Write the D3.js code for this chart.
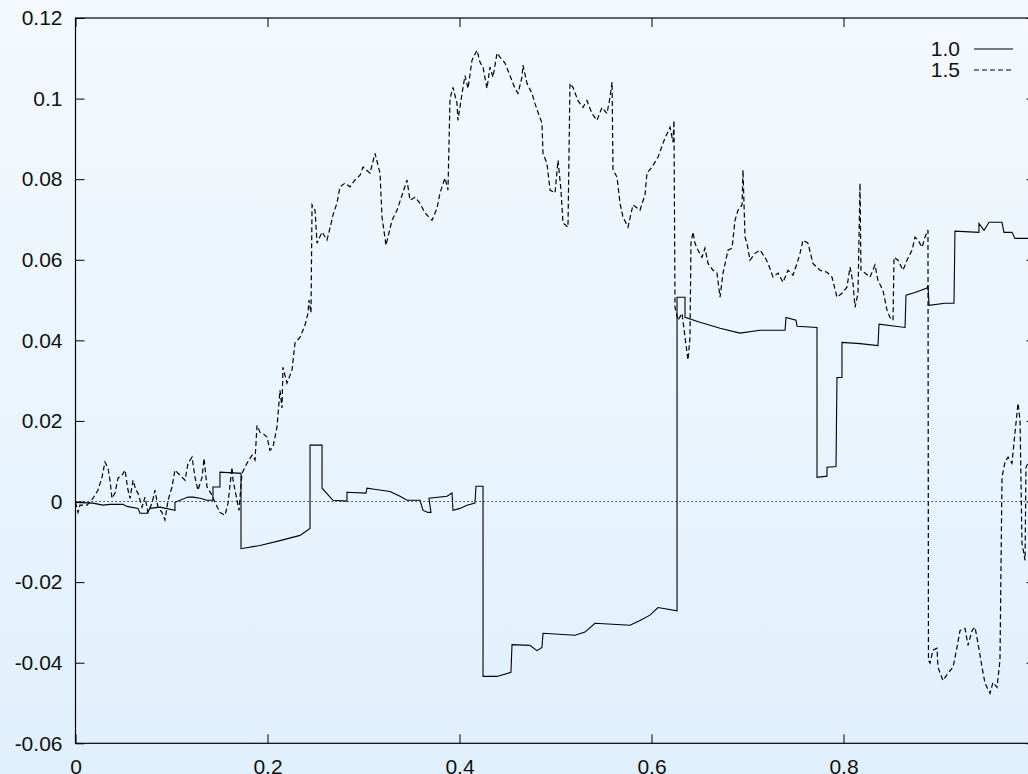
<!DOCTYPE html>
<html>
<head>
<meta charset="utf-8">
<script src="https://cdn.jsdelivr.net/npm/d3@7"></script>
<style>
  html, body { margin: 0; padding: 0; overflow: hidden; }
  svg { display: block; font-family: "Liberation Sans", Arial, sans-serif; }
</style>
</head>
<body>
<div id="chart"></div>
<script>
// series "1.0" (solid, step-like)
const solidX = [0, 0.0182, 0.0286, 0.0359, 0.0495, 0.0536, 0.0651, 0.0672, 0.0745, 0.0776, 0.088, 0.1036, 0.1036,
  0.1172, 0.1224, 0.1297, 0.137, 0.1432, 0.1432, 0.1505, 0.1505, 0.1724, 0.1724, 0.1922, 0.213, 0.2339, 0.2443, 0.2443,
  0.2568, 0.2568, 0.2682, 0.2828, 0.2828, 0.3026, 0.3036, 0.313, 0.3276, 0.338, 0.3453, 0.3589, 0.362, 0.3672, 0.3703,
  0.3682, 0.387, 0.3922, 0.3932, 0.4005, 0.4078, 0.4161, 0.4172, 0.4245, 0.4245, 0.4391, 0.4536, 0.4547, 0.4734, 0.4807,
  0.4859, 0.487, 0.5203, 0.5307, 0.5411, 0.5776, 0.588, 0.5984, 0.6068, 0.6266, 0.6266, 0.6349, 0.6349, 0.6505, 0.6714,
  0.6922, 0.713, 0.7391, 0.7401, 0.7505, 0.7516, 0.7724, 0.7724, 0.7828, 0.7828, 0.7922, 0.7932, 0.7984, 0.7984, 0.8172,
  0.8359, 0.837, 0.8641, 0.8651, 0.8745, 0.887, 0.888, 0.8891, 0.9057, 0.9151, 0.9161, 0.9411, 0.9411, 0.9464, 0.9516,
  0.9651, 0.9672, 0.9755, 0.9786, 0.9922, 0.9995];
const solidY = [-0.0002, -0.0004, -0.0009, -0.0007, -0.0007, -0.0012, -0.0017, -0.0029, -0.0029, -0.0017, -0.0014, -0.0022, -0.0002,
  0.0011, 0.0011, 0.0008, 0.0003, 0.0003, 0.0036, 0.0036, 0.0073, 0.007, -0.0117, -0.0109, -0.0097, -0.0084, -0.0067, 0.014,
  0.014, 0.0033, 0.0003, 0.0001, 0.0023, 0.0021, 0.0033, 0.003, 0.0025, 0.0013, 0.0003, 0.0003, -0.0022, -0.0027, -0.0027,
  0.0008, 0.0013, 0.0021, -0.0022, -0.0017, -0.0009, -0.0004, 0.0038, 0.0038, -0.0434, -0.0434, -0.0424, -0.0355, -0.0357, -0.037,
  -0.0362, -0.0327, -0.0332, -0.0324, -0.0302, -0.0307, -0.0295, -0.0282, -0.0263, -0.0271, 0.0507, 0.0507, 0.0457, 0.0445, 0.043,
  0.0418, 0.0425, 0.0425, 0.0457, 0.045, 0.0435, 0.0432, 0.006, 0.0063, 0.0085, 0.0087, 0.0308, 0.0308, 0.0395, 0.0392,
  0.0387, 0.044, 0.0432, 0.0512, 0.0519, 0.053, 0.0536, 0.0487, 0.0492, 0.0492, 0.0671, 0.0668, 0.069, 0.0673, 0.0693,
  0.0693, 0.0668, 0.0668, 0.0653, 0.0653, 0.0653];

// series "1.5" (dashed, noisy)
const dashX = [0, 0.0026, 0.0047, 0.012, 0.0182, 0.0234, 0.0276, 0.0307, 0.0339, 0.0359, 0.038, 0.0411, 0.0443, 0.0484,
  0.0516, 0.0547, 0.0568, 0.0599, 0.063, 0.0651, 0.0693, 0.0724, 0.0755, 0.0797, 0.0828, 0.0859, 0.0901, 0.0932, 0.0964,
  0.1005, 0.1036, 0.1089, 0.1141, 0.1172, 0.1214, 0.1245, 0.1276, 0.1318, 0.1339, 0.137, 0.1422, 0.1453, 0.1505, 0.1557,
  0.1589, 0.163, 0.1641, 0.1672, 0.1703, 0.1734, 0.1786, 0.1839, 0.187, 0.1891, 0.1922, 0.1953, 0.1995, 0.2026, 0.2057,
  0.2099, 0.213, 0.2151, 0.2161, 0.2203, 0.2255, 0.2286, 0.2339, 0.2391, 0.2422, 0.2432, 0.2453, 0.2464, 0.2495, 0.2516,
  0.2568, 0.262, 0.2651, 0.2682, 0.2724, 0.2755, 0.2807, 0.2859, 0.2911, 0.2964, 0.2995, 0.3068, 0.312, 0.3172, 0.3193,
  0.3234, 0.3297, 0.3349, 0.3411, 0.3453, 0.3484, 0.3536, 0.3589, 0.3641, 0.3714, 0.3766, 0.3797, 0.3849, 0.388, 0.3901,
  0.3932, 0.3974, 0.3984, 0.4026, 0.4057, 0.4089, 0.413, 0.4182, 0.4214, 0.4245, 0.4286, 0.4318, 0.4349, 0.4391, 0.4422,
  0.4474, 0.4526, 0.4578, 0.4609, 0.4651, 0.4661, 0.4703, 0.4755, 0.4786, 0.4818, 0.4859, 0.487, 0.4911, 0.4943, 0.4995,
  0.5026, 0.5057, 0.5078, 0.513, 0.5151, 0.5182, 0.5234, 0.5286, 0.5328, 0.538, 0.5432, 0.5484, 0.5536, 0.5568, 0.5589,
  0.5599, 0.5641, 0.5672, 0.5703, 0.5755, 0.5807, 0.588, 0.5932, 0.5953, 0.6005, 0.6068, 0.614, 0.6193, 0.6224, 0.6234,
  0.6245, 0.6276, 0.6318, 0.6349, 0.638, 0.6401, 0.6411, 0.6432, 0.6453, 0.6484, 0.6526, 0.6557, 0.6589, 0.6641, 0.6682,
  0.6714, 0.6745, 0.6797, 0.6839, 0.687, 0.6901, 0.6943, 0.6953, 0.6974, 0.6995, 0.7026, 0.7078, 0.713, 0.7182, 0.7214,
  0.7266, 0.7318, 0.737, 0.7422, 0.7474, 0.7516, 0.7547, 0.7578, 0.763, 0.7682, 0.7755, 0.7828, 0.788, 0.7932, 0.7984,
  0.8036, 0.8068, 0.8099, 0.812, 0.8151, 0.8172, 0.8182, 0.8224, 0.8276, 0.8328, 0.8359, 0.8411, 0.8453, 0.8484, 0.8516,
  0.8526, 0.8568, 0.862, 0.8661, 0.8714, 0.8745, 0.8776, 0.8818, 0.8849, 0.888, 0.8885, 0.8901, 0.8932, 0.8974, 0.8984,
  0.9036, 0.9089, 0.9141, 0.9182, 0.9214, 0.9266, 0.9297, 0.9339, 0.937, 0.9401, 0.9443, 0.9474, 0.9526, 0.9557, 0.9599,
  0.963, 0.9651, 0.9682, 0.9714, 0.9755, 0.9786, 0.9818, 0.9839, 0.9859, 0.9891, 0.9901, 0.9922, 0.9995];
const dashY = [-0.0002, -0.0027, -0.0009, -0.0009, 0.0008, 0.0028, 0.006, 0.0098, 0.0083, 0.0053, 0.0008, 0.0021, 0.0058, 0.0065,
  0.0078, 0.0028, 0.0008, 0.0053, 0.0028, 0.0021, -0.0014, 0.0011, -0.0027, -0.0004, 0.0028, -0.0014, -0.0027, -0.0046, 0.0003,
  0.0036, 0.0078, 0.0065, 0.0053, 0.0095, 0.011, 0.006, 0.0028, 0.006, 0.0107, 0.0036, 0.0016, -0.0002, -0.0027, -0.0034,
  -0.0004, 0.0085, 0.0053, 0.0016, -0.0022, 0.007, 0.0095, 0.0115, 0.0103, 0.0189, 0.0172, 0.0169, 0.016, 0.0127, 0.0135,
  0.0185, 0.0276, 0.0232, 0.0333, 0.0294, 0.0326, 0.0393, 0.0408, 0.0438, 0.0468, 0.05, 0.0468, 0.0736, 0.0723, 0.0641,
  0.0669, 0.0649, 0.0679, 0.0711, 0.0741, 0.0781, 0.079, 0.0781, 0.0798, 0.081, 0.083, 0.0815, 0.0864, 0.0815, 0.0706,
  0.0636, 0.0698, 0.0723, 0.0767, 0.0798, 0.0748, 0.0755, 0.074, 0.0716, 0.0698, 0.0728, 0.0766, 0.0803, 0.0773, 0.1,
  0.1028, 0.0988, 0.0946, 0.1012, 0.1057, 0.1025, 0.1095, 0.112, 0.109, 0.1078, 0.1025, 0.1078, 0.1053, 0.1113, 0.1103,
  0.1088, 0.1057, 0.1025, 0.1013, 0.1053, 0.1083, 0.1038, 0.1013, 0.0988, 0.0966, 0.0939, 0.0864, 0.0839, 0.0773, 0.0766,
  0.0847, 0.0773, 0.0691, 0.0681, 0.1038, 0.1028, 0.0995, 0.0978, 0.0995, 0.0963, 0.0946, 0.0978, 0.0963, 0.1003, 0.1041,
  0.0823, 0.0805, 0.074, 0.0706, 0.0681, 0.0736, 0.0723, 0.0761, 0.0815, 0.083, 0.0855, 0.0902, 0.0929, 0.0892, 0.0946,
  0.0482, 0.045, 0.0467, 0.0408, 0.0351, 0.0408, 0.0641, 0.0669, 0.0641, 0.0624, 0.0606, 0.0629, 0.0591, 0.0574, 0.0567,
  0.0507, 0.0567, 0.0624, 0.0629, 0.0698, 0.0723, 0.0736, 0.0823, 0.0656, 0.0641, 0.0599, 0.0616, 0.0624, 0.0606, 0.0591,
  0.0557, 0.0567, 0.0544, 0.0574, 0.0562, 0.0591, 0.0616, 0.0649, 0.0641, 0.0591, 0.0574, 0.0569, 0.0557, 0.0507, 0.0517,
  0.0532, 0.0582, 0.0542, 0.0482, 0.0517, 0.079, 0.0574, 0.0567, 0.0557, 0.0587, 0.0549, 0.0524, 0.0475, 0.0457, 0.045,
  0.0606, 0.0599, 0.0574, 0.0599, 0.0624, 0.0656, 0.0649, 0.0631, 0.0656, 0.0674, -0.0394, -0.0401, -0.0369, -0.0364, -0.0411,
  -0.0444, -0.0426, -0.0411, -0.0362, -0.032, -0.0315, -0.0357, -0.032, -0.0312, -0.0352, -0.0411, -0.0451, -0.0476, -0.0449, -0.0461,
  -0.0394, 0.006, 0.0098, 0.011, 0.0095, 0.017, 0.0244, 0.0202, -0.0103, -0.0146, 0.0085, 0.0095, 0.0078];

const yTicks = [-0.06, -0.04, -0.02, 0, 0.02, 0.04, 0.06, 0.08, 0.1, 0.12];
const xTicks = [0, 0.2, 0.4, 0.6, 0.8, 1];
const legendLabels = ['1.0', '1.5'];

const width = 1028;
const height = 774;
const box = { left: 75.5, right: 1035.5, top: 18, bottom: 743.3 };

const svg = d3.select('#chart')
  .append('svg')
  .attr('width', width)
  .attr('height', height);

const grad = svg.append('defs').append('linearGradient')
  .attr('id', 'bg')
  .attr('x1', 0).attr('y1', 0).attr('x2', 0).attr('y2', 1);
grad.append('stop').attr('offset', '0%').attr('stop-color', '#f4f9fe');
grad.append('stop').attr('offset', '100%').attr('stop-color', '#e0f0fc');

svg.append('rect')
  .attr('width', width)
  .attr('height', height)
  .attr('fill', 'url(#bg)');

const x = d3.scaleLinear().domain([0, 1]).range([box.left, box.right]);
const y = d3.scaleLinear().domain([-0.06, 0.12]).range([box.bottom, box.top]);

const fmt = (d) => (d === 0 ? '0' : String(+d.toFixed(2)));

function styleAxis(g) {
  g.select('.domain').remove();
  g.selectAll('.tick line').attr('stroke', '#000');
  g.selectAll('.tick text')
    .attr('fill', '#111')
    .style('font-family', '"Liberation Sans", Arial, sans-serif')
    .style('font-size', '21px');
}

svg.append('g')
  .attr('transform', `translate(${box.left},0)`)
  .call(d3.axisLeft(y).tickValues(yTicks).tickFormat(fmt).tickSize(-9).tickPadding(13))
  .call(styleAxis);

svg.append('g')
  .attr('transform', `translate(${box.right},0)`)
  .call(d3.axisRight(y).tickValues(yTicks).tickFormat('').tickSize(-9))
  .call(styleAxis);

svg.append('g')
  .attr('transform', `translate(0,${box.bottom})`)
  .call(d3.axisBottom(x).tickValues(xTicks).tickFormat(fmt).tickSize(-9).tickPadding(16))
  .call(styleAxis);

svg.append('g')
  .attr('transform', `translate(0,${box.top})`)
  .call(d3.axisTop(x).tickValues(xTicks).tickFormat('').tickSize(-9))
  .call(styleAxis);

// zero axis
svg.append('line')
  .attr('x1', x(0)).attr('x2', x(1))
  .attr('y1', y(0)).attr('y2', y(0))
  .attr('stroke', '#000')
  .attr('stroke-width', 1)
  .attr('stroke-dasharray', '1.2,2.8');

const line = d3.line()
  .x((d) => x(d[0]))
  .y((d) => y(d[1]));

svg.append('path')
  .datum(solidX.map((v, i) => [v, solidY[i]]))
  .attr('d', line)
  .attr('fill', 'none')
  .attr('stroke', '#000')
  .attr('stroke-width', 1.1);

svg.append('path')
  .datum(dashX.map((v, i) => [v, dashY[i]]))
  .attr('d', line)
  .attr('fill', 'none')
  .attr('stroke', '#000')
  .attr('stroke-width', 1.2)
  .attr('stroke-dasharray', '5,3');

// frame
svg.append('rect')
  .attr('x', box.left)
  .attr('y', box.top)
  .attr('width', box.right - box.left)
  .attr('height', box.bottom - box.top)
  .attr('fill', 'none')
  .attr('stroke', '#000')
  .attr('stroke-width', 1.2);

// legend
const legend = svg.append('g')
  .selectAll('g')
  .data(legendLabels)
  .join('g')
  .attr('transform', (d, i) => `translate(0,${49 + i * 21})`);

legend.append('text')
  .attr('x', 960)
  .attr('dy', '0.35em')
  .attr('text-anchor', 'end')
  .attr('fill', '#111')
  .style('font-size', '21px')
  .text((d) => d);

legend.append('line')
  .attr('x1', 974).attr('x2', 1013)
  .attr('stroke', '#000')
  .attr('stroke-width', 1)
  .attr('stroke-dasharray', (d, i) => (i === 0 ? null : '5,3'));
</script>
</body>
</html>
